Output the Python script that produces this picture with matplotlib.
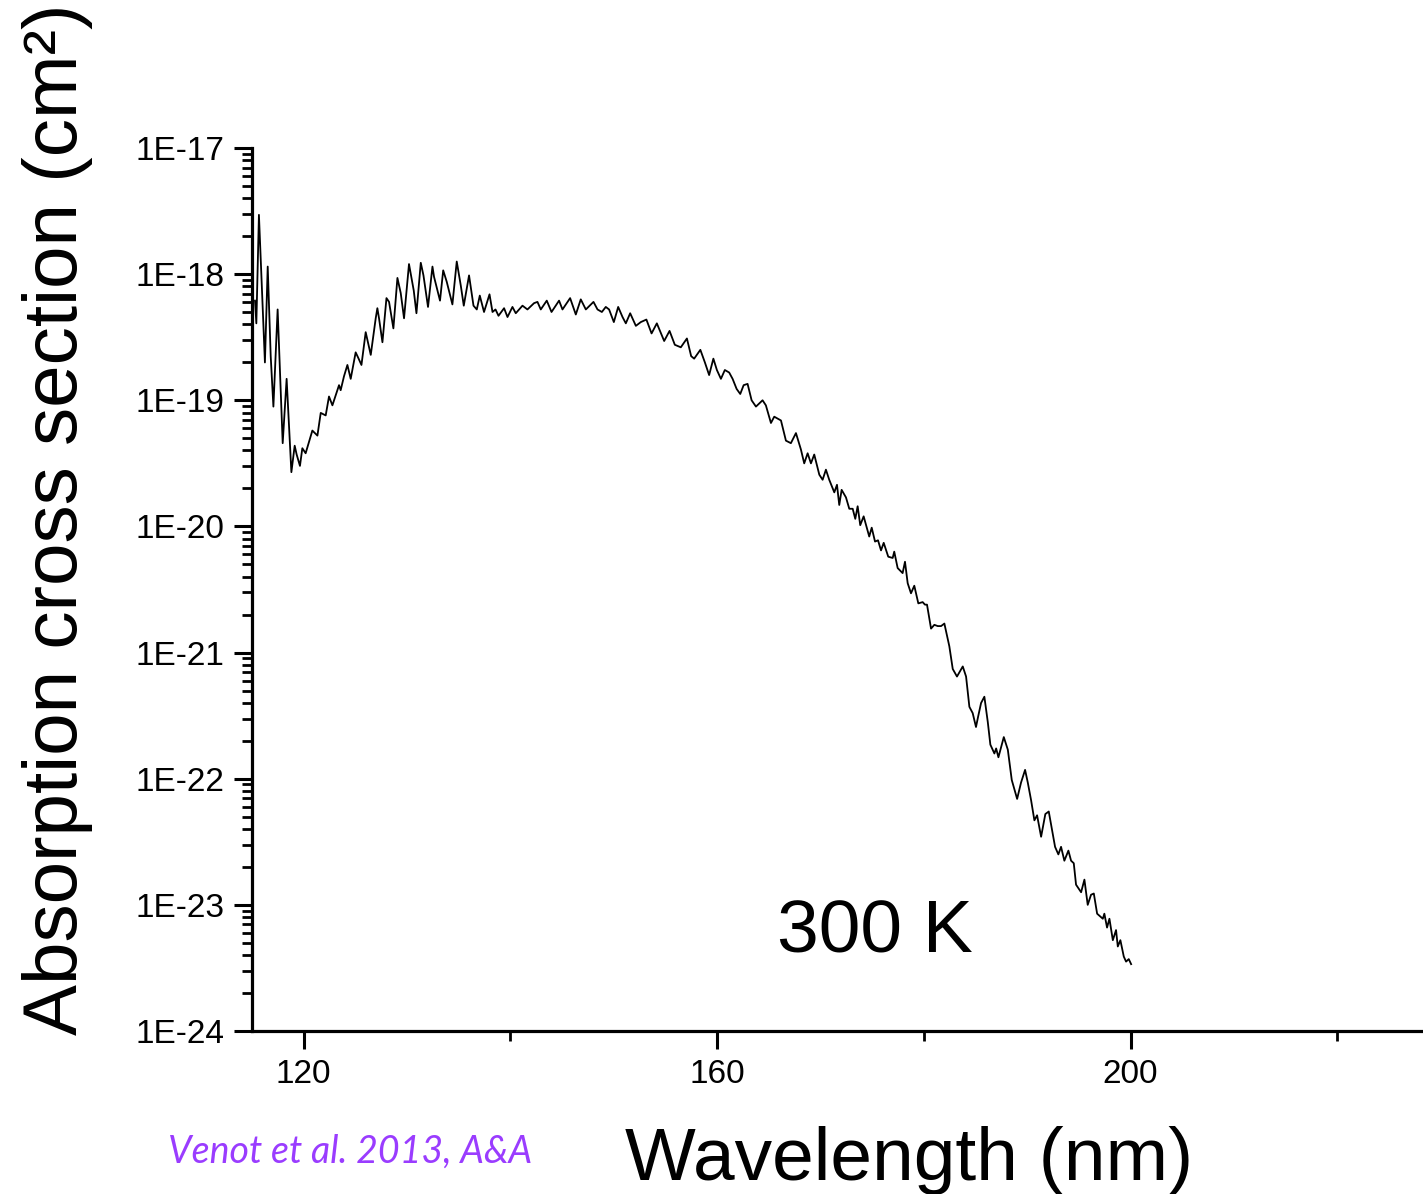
import numpy as np
import matplotlib
matplotlib.use('Agg')
import matplotlib.pyplot as plt
from matplotlib.ticker import LogLocator, FixedLocator, MultipleLocator, NullFormatter, FuncFormatter

# wavelength (nm) and log10 of absorption cross section (cm2)
wavelength = [
    115.29, 115.42, 115.67, 116.25, 116.52, 116.81, 117.07, 117.48, 117.97, 118.35,
    118.81, 119.13, 119.32, 119.64, 119.87, 120.19, 120.84, 121.33, 121.65, 122.13,
    122.45, 122.78, 123.42, 123.58, 123.90, 124.23, 124.55, 125.03, 125.26, 125.59,
    126.00, 126.49, 126.97, 127.13, 127.29, 127.62, 128.01, 128.26, 128.68, 129.07,
    129.39, 129.71, 130.19, 130.65, 130.91, 131.33, 131.59, 132.03, 132.46, 132.61,
    132.94, 133.19, 133.50, 133.84, 134.39, 134.81, 135.20, 135.49, 136.00, 136.43,
    136.75, 137.04, 137.45, 137.98, 138.27, 138.56, 138.85, 139.39, 139.72, 140.20,
    140.52, 141.17, 141.65, 142.29, 142.62, 142.94, 143.52, 143.98, 144.71, 145.04,
    145.78, 146.33, 146.81, 147.30, 148.04, 148.43, 148.85, 149.23, 149.55, 150.01,
    150.43, 150.85, 151.17, 151.59, 152.14, 152.62, 153.16, 153.66, 154.17, 154.88,
    155.40, 155.91, 156.49, 157.08, 157.49, 157.78, 158.38, 158.82, 159.23, 159.64,
    159.98, 160.37, 160.75, 161.17, 161.50, 161.89, 162.24, 162.57, 162.95, 163.34,
    163.76, 164.40, 164.72, 165.21, 165.53, 166.18, 166.66, 167.14, 167.63, 168.11,
    168.43, 168.76, 169.08, 169.40, 169.89, 170.21, 170.53, 170.85, 171.34, 171.60,
    171.82, 172.05, 172.47, 172.79, 173.12, 173.37, 173.60, 173.85, 174.18, 174.72,
    174.96, 175.28, 175.57, 175.86, 176.12, 176.56, 176.99, 177.14, 177.47, 177.95,
    178.18, 178.44, 178.76, 179.08, 179.47, 179.89, 180.11, 180.31, 180.70, 181.02,
    181.35, 181.67, 181.99, 182.47, 182.80, 183.21, 183.77, 184.09, 184.41, 184.73,
    185.05, 185.25, 185.54, 185.86, 186.19, 186.44, 186.83, 187.00, 187.22, 187.74,
    188.13, 188.51, 189.03, 189.41, 189.80, 190.06, 190.38, 190.70, 190.96, 191.35,
    191.76, 192.09, 192.31, 192.70, 193.02, 193.28, 193.60, 193.99, 194.25, 194.51,
    194.73, 195.22, 195.54, 195.86, 196.18, 196.45, 196.77, 197.32, 197.47, 197.73,
    197.96, 198.29, 198.60, 198.77, 199.02, 199.35, 199.57, 199.83, 200.06,
]
log_sigma = [
    -18.21, -18.39, -17.53, -18.70, -17.94, -18.65, -19.05, -18.28, -19.34, -18.83,
    -19.57, -19.36, -19.43, -19.52, -19.38, -19.42, -19.24, -19.28, -19.10, -19.12,
    -18.97, -19.04, -18.88, -18.92, -18.81, -18.72, -18.83, -18.62, -18.66, -18.72,
    -18.46, -18.64, -18.35, -18.27, -18.35, -18.54, -18.19, -18.22, -18.43, -18.03,
    -18.15, -18.35, -17.92, -18.13, -18.31, -17.91, -18.01, -18.26, -17.94, -18.02,
    -18.13, -18.21, -17.97, -18.06, -18.24, -17.90, -18.09, -18.25, -18.01, -18.25,
    -18.28, -18.17, -18.30, -18.16, -18.30, -18.28, -18.33, -18.27, -18.34, -18.26,
    -18.31, -18.25, -18.28, -18.23, -18.22, -18.28, -18.21, -18.30, -18.21, -18.28,
    -18.19, -18.32, -18.20, -18.28, -18.22, -18.28, -18.30, -18.26, -18.28, -18.38,
    -18.26, -18.34, -18.39, -18.31, -18.41, -18.38, -18.36, -18.47, -18.39, -18.53,
    -18.45, -18.56, -18.58, -18.51, -18.65, -18.67, -18.60, -18.70, -18.80, -18.67,
    -18.76, -18.83, -18.76, -18.78, -18.83, -18.91, -18.95, -18.88, -18.87, -19.00,
    -19.05, -19.00, -19.04, -19.18, -19.13, -19.16, -19.32, -19.34, -19.26, -19.39,
    -19.50, -19.42, -19.50, -19.43, -19.59, -19.63, -19.55, -19.63, -19.73, -19.67,
    -19.83, -19.71, -19.77, -19.86, -19.86, -19.94, -19.84, -19.99, -19.92, -20.08,
    -20.01, -20.12, -20.11, -20.19, -20.13, -20.24, -20.25, -20.20, -20.33, -20.37,
    -20.28, -20.45, -20.53, -20.47, -20.61, -20.60, -20.62, -20.62, -20.81, -20.78,
    -20.79, -20.79, -20.77, -20.95, -21.13, -21.19, -21.11, -21.19, -21.43, -21.48,
    -21.59, -21.51, -21.40, -21.35, -21.55, -21.73, -21.80, -21.76, -21.83, -21.67,
    -21.77, -22.01, -22.16, -22.03, -21.93, -22.03, -22.17, -22.33, -22.29, -22.46,
    -22.28, -22.26, -22.36, -22.54, -22.60, -22.54, -22.65, -22.57, -22.65, -22.67,
    -22.84, -22.90, -22.80, -23.00, -22.92, -22.91, -23.07, -23.11, -23.07, -23.18,
    -23.11, -23.28, -23.20, -23.33, -23.28, -23.41, -23.45, -23.43, -23.47,
]
sigma = np.power(10.0, log_sigma)

decades = [1e-24, 1e-23, 1e-22, 1e-21, 1e-20, 1e-19, 1e-18, 1e-17]
decade_labels = ['1E-24', '1E-23', '1E-22', '1E-21', '1E-20', '1E-19', '1E-18', '1E-17']

plt.rcParams['font.family'] = ['Liberation Sans', 'DejaVu Sans']

fig = plt.figure(figsize=(14.23, 11.94), dpi=100)
ax = fig.add_axes([252/1423, 1-1031/1194, 1-252/1423, (1031-148)/1194])

ax.plot(wavelength, sigma, color='black', lw=1.3, solid_joinstyle='round')

ax.set_yscale('log')
ax.set_xlim(115, 228.3)
ax.set_ylim(1e-24, 1e-17)

ax.yaxis.set_major_locator(FixedLocator(decades))
ax.yaxis.set_major_formatter(FuncFormatter(lambda v, p: decade_labels[int(round(np.log10(v))) + 24]))
ax.yaxis.set_minor_locator(LogLocator(base=10, subs=np.arange(2, 10), numticks=20))
ax.yaxis.set_minor_formatter(NullFormatter())
ax.xaxis.set_major_locator(MultipleLocator(40))
ax.xaxis.set_minor_locator(MultipleLocator(20))

for s in ['top', 'right']:
    ax.spines[s].set_visible(False)
for s in ['left', 'bottom']:
    ax.spines[s].set_linewidth(2.3)

ax.tick_params(which='major', direction='out', length=13, width=2.2, labelsize=24, pad=7)
ax.tick_params(which='minor', direction='out', length=7.5, width=2.0)

ax.set_xlabel('Wavelength (nm)', fontsize=54, va='baseline')
ax.xaxis.set_label_coords((909-252)/1171, -(1180-1031)/883)
ax.set_ylabel('Absorption cross section (cm²)', fontsize=55)
ax.yaxis.set_label_coords((93-252)/1171, (1031-519)/883)

ax.text(165.8, 10**-23.38, '300 K', fontsize=54, ha='left', va='baseline')

fig.text(168/1423, 1-1163/1194, 'Venot et al. 2013, A&A', fontsize=27, style='italic',
         color='#9a3cff', family=['Lato', 'DejaVu Sans'], ha='left', va='baseline')

fig.savefig('out.png', dpi=100)
